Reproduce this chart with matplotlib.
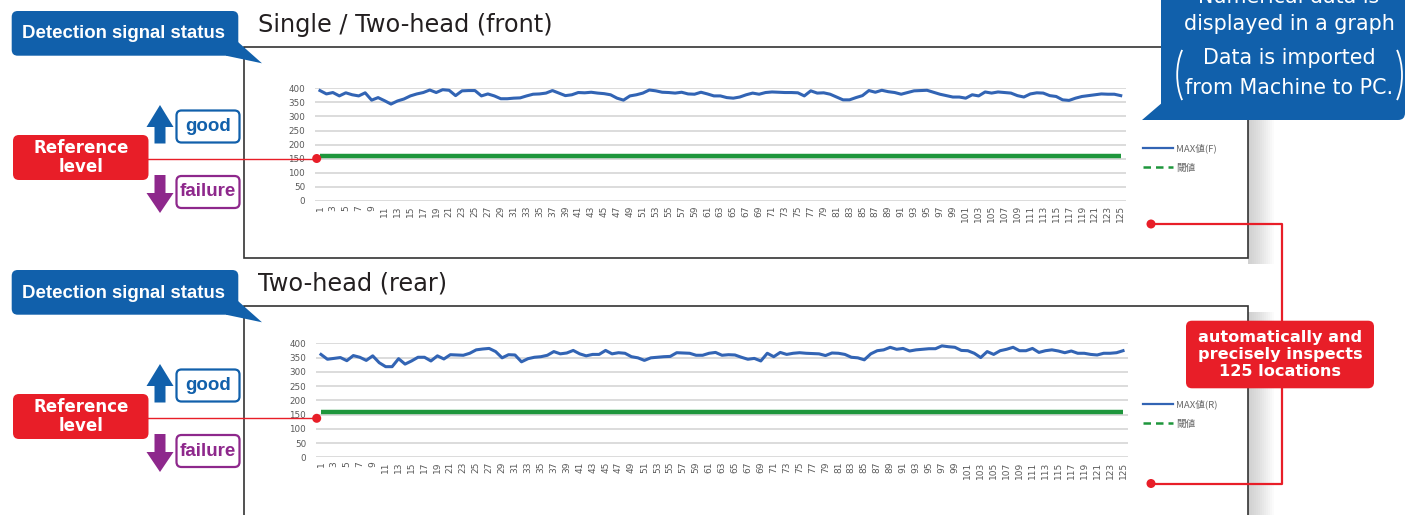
"""Detection signal status infographic: front and rear MAX value charts."""

from __future__ import annotations

import matplotlib

matplotlib.use("Agg")
import matplotlib.pyplot as plt
from matplotlib.lines import Line2D
from matplotlib.patches import Arc, Circle, FancyBboxPatch, Polygon, Rectangle

FIG_W, FIG_H = 1408, 515

locations = list(range(1, 126))

front_max = [
    392, 380, 385, 373, 384, 377, 373, 384, 358, 367,
    356, 344, 355, 362, 373, 380, 385, 394, 385, 395,
    393, 374, 391, 392, 392, 373, 380, 373, 363, 363,
    365, 366, 373, 379, 380, 383, 392, 383, 374, 377,
    385, 384, 386, 383, 381, 377, 365, 358, 373, 377,
    383, 394, 391, 386, 385, 383, 386, 380, 379, 386,
    380, 373, 373, 367, 365, 369, 377, 383, 379, 385,
    387, 386, 385, 385, 384, 373, 391, 383, 384, 379,
    369, 359, 359, 367, 374, 392, 386, 393, 388, 385,
    379, 385, 391, 392, 393, 386, 379, 374, 369, 369,
    365, 377, 373, 387, 383, 387, 385, 383, 374, 369,
    380, 384, 383, 374, 371, 359, 357, 365, 371, 374,
    377, 380, 379, 379, 374,
]

rear_max = [
    361, 344, 347, 350, 339, 357, 351, 340, 356, 332,
    318, 318, 346, 327, 338, 351, 351, 338, 356, 345,
    360, 359, 358, 365, 377, 380, 382, 371, 349, 360,
    359, 335, 346, 351, 353, 358, 371, 363, 366, 375,
    363, 356, 361, 361, 375, 363, 367, 365, 353, 349,
    340, 349, 351, 353, 354, 367, 366, 365, 358, 358,
    365, 368, 358, 360, 359, 351, 344, 347, 338, 365,
    353, 368, 361, 365, 367, 365, 364, 363, 357, 366,
    365, 361, 351, 349, 342, 363, 374, 377, 386, 379,
    382, 373, 377, 379, 381, 381, 391, 388, 386, 375,
    374, 365, 350, 371, 361, 374, 379, 386, 374, 374,
    382, 368, 374, 377, 373, 367, 373, 365, 365, 361,
    359, 365, 365, 367, 374,
]

threshold_front = [160] * len(locations)
threshold_rear = [160] * len(locations)

y_ticks = [0, 50, 100, 150, 200, 250, 300, 350, 400]
x_ticks = locations[::2]
x_tick_labels = [str(n) for n in x_ticks]

legend_front = ["MAX値(F)", "閾値"]
legend_rear = ["MAX値(R)", "閾値"]

chart_titles = ["Single / Two-head (front)", "Two-head (rear)"]

BLUE = "#1160ab"
RED = "#e81e28"
PURPLE = "#8e288c"
LINE_BLUE = "#3264b4"
LINE_GREEN = "#1e963c"
TICK_GRAY = "#595959"
CJK = ["Noto Sans CJK JP", "DejaVu Sans"]


def _px_axes(fig: plt.Figure, left: float, top: float, right: float, bottom: float, **kw) -> plt.Axes:
    return fig.add_axes(
        [left / FIG_W, 1 - bottom / FIG_H, (right - left) / FIG_W, (bottom - top) / FIG_H], **kw
    )


def _overlay(fig: plt.Figure, zorder: int) -> plt.Axes:
    ax = fig.add_axes([0, 0, 1, 1], zorder=zorder)
    ax.set_xlim(0, FIG_W)
    ax.set_ylim(FIG_H, 0)
    ax.axis("off")
    return ax


def _plot_chart(fig, box, values, threshold, legend_labels, legend_y) -> None:
    ax = _px_axes(fig, *box, zorder=2)
    ax.set_facecolor("none")
    ax.plot(locations, threshold, color=LINE_GREEN, linewidth=3.2, solid_capstyle="butt", zorder=3)
    ax.plot(locations, values, color=LINE_BLUE, linewidth=2.2, zorder=4)

    ax.set_xlim(0.2, 125.8)
    ax.set_ylim(0, 400)
    ax.set_yticks(y_ticks)
    ax.set_xticks(x_ticks)
    ax.set_xticklabels(x_tick_labels, rotation=90)
    ax.tick_params(axis="both", length=0, colors=TICK_GRAY)
    ax.tick_params(axis="y", labelsize=6.3, pad=7)
    ax.tick_params(axis="x", labelsize=6.5, pad=3)
    ax.grid(axis="y", color="#d9d9d9", linewidth=1.3)
    ax.set_axisbelow(True)
    for spine in ax.spines.values():
        spine.set_visible(False)

    handles = [
        Line2D([], [], color=LINE_BLUE, linewidth=1.6),
        Line2D([], [], color=LINE_GREEN, linewidth=1.8, linestyle=(0, (3, 2))),
    ]
    leg = fig.legend(
        handles,
        legend_labels,
        loc="center left",
        bbox_to_anchor=(1138 / FIG_W, 1 - legend_y / FIG_H),
        frameon=False,
        handlelength=3.2,
        handletextpad=0.3,
        labelspacing=1.1,
        borderpad=0,
        prop={"family": CJK, "size": 6.9},
    )
    for text in leg.get_texts():
        text.set_color("#666666")


def _panel_decorations(back: plt.Axes, front: plt.Axes, dy: float, box_top: float, box_bottom: float,
                       title: str, dot_y: float) -> None:
    # framed box with soft shadow on the right
    for w in range(2, 28, 2):
        back.add_patch(Rectangle((1248, box_top + 6), w, box_bottom - box_top, facecolor="#808080",
                                 alpha=0.03, linewidth=0))
    back.add_patch(Rectangle((244, box_top), 1004, box_bottom - box_top, facecolor="white",
                             edgecolor="#333333", linewidth=1.2))
    back.text(258, box_top - 22, title, fontsize=17.3, color="#231f20", va="center", ha="left")

    # speech bubble
    front.add_patch(FancyBboxPatch((11.7, 11 + dy), 226.6, 44.7,
                                   boxstyle="round,pad=0,rounding_size=6", facecolor=BLUE, linewidth=0))
    front.add_patch(Polygon([(226, 44 + dy), (238, 42 + dy), (262, 63.3 + dy), (226, 55.7 + dy)],
                            closed=True, facecolor=BLUE, linewidth=0))
    front.text(124, 34 + dy, "Detection signal status", color="white", fontsize=13.4,
               fontweight="bold", family="Liberation Sans", ha="center", va="center")

    # good / failure arrows
    front.add_patch(Polygon([(160, 105 + dy), (146.5, 127 + dy), (154.5, 127 + dy), (154.5, 143.5 + dy),
                             (165.5, 143.5 + dy), (165.5, 127 + dy), (173.5, 127 + dy)],
                            closed=True, facecolor=BLUE, linewidth=0))
    front.add_patch(Polygon([(154.5, 175 + dy), (165.5, 175 + dy), (165.5, 193 + dy), (173.5, 193 + dy),
                             (160, 213 + dy), (146.5, 193 + dy), (154.5, 193 + dy)],
                            closed=True, facecolor=PURPLE, linewidth=0))
    for y0, label, color in [(110.5, "good", BLUE), (176, "failure", PURPLE)]:
        front.add_patch(FancyBboxPatch((176.5, y0 + dy), 63, 32, boxstyle="round,pad=0,rounding_size=5",
                                       facecolor="white", edgecolor=color, linewidth=1.6))
        front.text(208, y0 + 16 + dy, label, color=color, fontsize=13.5, fontweight="bold",
                   family="Liberation Sans", ha="center", va="center")

    # reference level tag and pointer
    front.plot([148, 316.7], [dot_y, dot_y], color=RED, linewidth=1.0, zorder=2)
    front.add_patch(Circle((316.7, dot_y), 4.5, facecolor=RED, linewidth=0, zorder=3))
    front.add_patch(FancyBboxPatch((13, 135 + dy), 135.5, 45, boxstyle="round,pad=0,rounding_size=6",
                                   facecolor=RED, linewidth=0, zorder=3))
    front.text(81, 157.5 + dy, "Reference\nlevel", color="white", fontsize=12.0, fontweight="bold",
               ha="center", va="center", linespacing=1.12, zorder=4)


def main() -> None:
    fig = plt.figure(figsize=(FIG_W / 100, FIG_H / 100), dpi=100)
    back = _overlay(fig, zorder=0)
    front = _overlay(fig, zorder=3)

    _panel_decorations(back, front, 0, 46.7, 258, chart_titles[0], 158.5)
    _panel_decorations(back, front, 259, 305.5, 540, chart_titles[1], 418.3)

    _plot_chart(fig, (314.8, 88.3, 1125.9, 201.0), front_max, threshold_front, legend_front, 158)
    _plot_chart(fig, (315.8, 343.3, 1128.2, 457.3), rear_max, threshold_rear, legend_rear, 414)

    # top-right callout
    front.add_patch(FancyBboxPatch((1161, -30), 244, 150, boxstyle="round,pad=0,rounding_size=7",
                                   facecolor=BLUE, linewidth=0))
    front.add_patch(Polygon([(1142, 120), (1163, 102), (1172, 120)], closed=True,
                            facecolor=BLUE, linewidth=0))
    for y, line in [(-3, "Numerical data is"), (24, "displayed in a graph"),
                    (58.5, "Data is imported"), (88, "from Machine to PC.")]:
        front.text(1289, y, line, color="white", fontsize=14.9, ha="center", va="center")
    front.add_patch(Arc((1199.7, 75), 45, 80, theta1=125, theta2=235, color="white", linewidth=1.3))
    front.add_patch(Arc((1379.5, 75), 45, 80, theta1=-55, theta2=55, color="white", linewidth=1.3))

    # inspection callout with connectors
    front.plot([1151, 1281.7, 1281.7], [224, 224, 322], color=RED, linewidth=1.6)
    front.plot([1281.7, 1281.7, 1151], [386, 483.5, 483.5], color=RED, linewidth=1.6)
    for y in (224, 483.5):
        front.add_patch(Circle((1151, y), 4.5, facecolor=RED, linewidth=0))
    front.add_patch(FancyBboxPatch((1186, 320.7), 188, 67.6, boxstyle="round,pad=0,rounding_size=6",
                                   facecolor=RED, linewidth=0))
    front.text(1280, 354.5, "automatically and\nprecisely inspects\n125 locations", color="white",
               fontsize=11.6, fontweight="bold", ha="center", va="center", linespacing=1.2)

    fig.savefig("out.png", dpi=100)
    plt.close(fig)


if __name__ == "__main__":
    main()
